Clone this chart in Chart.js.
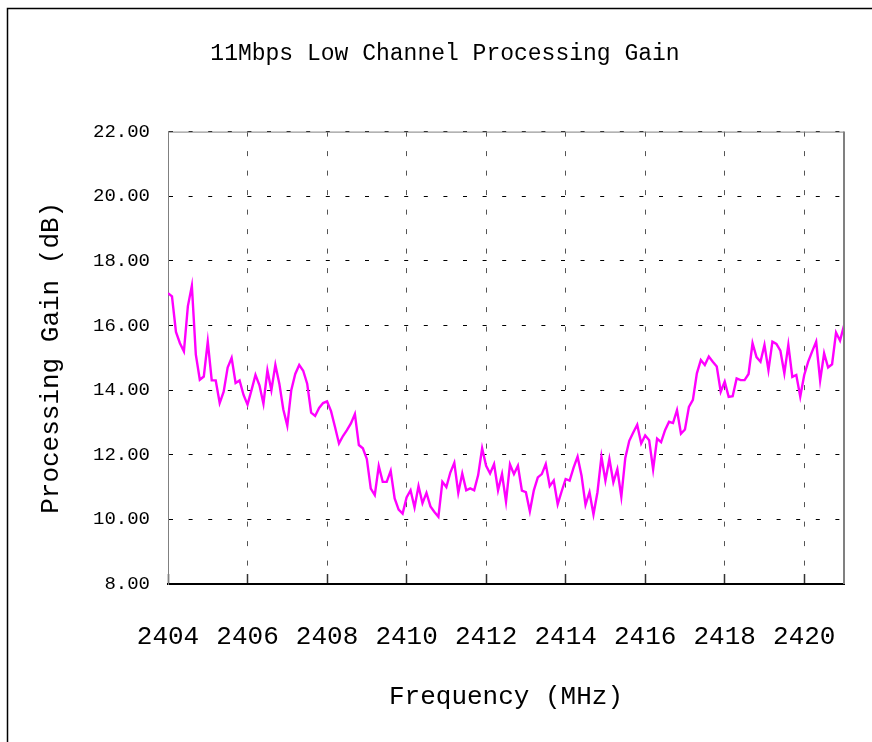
<!DOCTYPE html>
<html>
<head>
<meta charset="utf-8">
<script src="https://cdn.jsdelivr.net/npm/chart.js@4/dist/chart.umd.min.js"></script>
<style>
  html, body { margin: 0; padding: 0; background: #fff; }
  canvas { display: block; }
</style>
</head>
<body>
<canvas id="c" width="872" height="742"></canvas>
<script>
// ---- data ----
const TITLE = '11Mbps Low Channel Processing Gain';
const X_TITLE = 'Frequency (MHz)';
const Y_TITLE = 'Processing Gain (dB)';
const FREQ_START = 2404;   // MHz, first sample
const FREQ_STEP = 0.1;     // MHz between samples
const X_MIN = 2404, X_MAX = 2421, X_STEP = 2;
const Y_MIN = 8, Y_MAX = 22, Y_STEP = 2;
const gain = [
  17.0, 16.9, 15.8, 15.45, 15.2, 16.6, 17.23, 15.1, 14.32, 14.42,
  15.5, 14.3, 14.3, 13.6, 13.95, 14.7, 15.0, 14.22, 14.3, 13.85,
  13.55, 14.0, 14.47, 14.15, 13.58, 14.61, 14.0, 14.78, 14.2, 13.4,
  12.9, 14.0, 14.5, 14.78, 14.6, 14.2, 13.3, 13.2, 13.45, 13.6,
  13.65, 13.35, 12.86, 12.35, 12.58, 12.76, 12.97, 13.26, 12.3, 12.2,
  11.87, 10.95, 10.75, 11.65, 11.16, 11.16, 11.5, 10.65, 10.3, 10.18,
  10.68, 10.9, 10.37, 11.03, 10.5, 10.82, 10.4, 10.23, 10.08, 11.16,
  11.0, 11.45, 11.75, 10.82, 11.42, 10.9, 10.96, 10.9, 11.37, 12.2,
  11.66, 11.42, 11.71, 10.9, 11.4, 10.55, 11.7, 11.4, 11.66, 10.89,
  10.84, 10.25, 10.9, 11.3, 11.4, 11.71, 11.03, 11.2, 10.47, 10.87,
  11.25, 11.2, 11.6, 11.94, 11.35, 10.45, 10.84, 10.15, 10.84, 11.94,
  11.2, 11.87, 11.15, 11.55, 10.7, 11.9, 12.43, 12.69, 12.93, 12.35,
  12.6, 12.45, 11.55, 12.5, 12.39, 12.76, 13.02, 12.98, 13.38, 12.65,
  12.78, 13.48, 13.7, 14.52, 14.93, 14.78, 15.04, 14.88, 14.73, 13.95,
  14.26, 13.79, 13.81, 14.36, 14.31, 14.31, 14.5, 15.45, 15.02, 14.88,
  15.4, 14.62, 15.5, 15.43, 15.22, 14.52, 15.4, 14.41, 14.47, 13.8,
  14.47, 14.88, 15.2, 15.5, 14.3, 15.14, 14.7, 14.8, 15.78, 15.53,
  16.0
];
const freq = gain.map((_, i) => +(FREQ_START + i * FREQ_STEP).toFixed(2));

// ---- chart ----
const FONT = "'Liberation Mono', 'DejaVu Sans Mono', monospace";

const framePlugin = {
  id: 'frame',
  beforeDraw(chart) {
    const ctx = chart.ctx;
    ctx.save();
    ctx.fillStyle = '#ffffff';
    ctx.fillRect(0, 0, chart.width, chart.height);
    ctx.strokeStyle = '#000000';
    ctx.lineWidth = 1.5;
    ctx.beginPath();
    ctx.moveTo(7.5, chart.height);
    ctx.lineTo(7.5, 8.5);
    ctx.lineTo(chart.width, 8.5);
    ctx.stroke();
    ctx.restore();
  },
  afterDraw(chart) {
    const {ctx, chartArea: a} = chart;
    ctx.save();
    ctx.strokeStyle = '#808080';
    ctx.lineWidth = 1;
    ctx.beginPath();
    ctx.moveTo(a.left, a.top + 0.5);
    ctx.lineTo(a.right, a.top + 0.5);
    ctx.stroke();
    ctx.lineWidth = 2;
    ctx.beginPath();
    ctx.moveTo(a.right, a.top);
    ctx.lineTo(a.right, a.bottom);
    ctx.stroke();
    ctx.restore();
  }
};

new Chart(document.getElementById('c'), {
  type: 'line',
  data: {
    datasets: [{
      data: freq.map((f, i) => ({x: f, y: gain[i]})),
      borderColor: '#ff00ff',
      borderWidth: 2.4,
      pointRadius: 0,
      tension: 0,
      fill: false
    }]
  },
  options: {
    responsive: false,
    devicePixelRatio: 1,
    animation: false,
    layout: { padding: { left: 18, right: 0, top: 0, bottom: 0 } },
    plugins: {
      legend: { display: false },
      tooltip: { enabled: false },
      title: {
        display: true,
        text: TITLE,
        color: '#000',
        font: { family: FONT, size: 23, weight: 'normal' },
        padding: { top: 40, bottom: 64 }
      }
    },
    scales: {
      x: {
        type: 'linear',
        min: X_MIN, max: X_MAX,
        afterFit(scale) { scale.height = 158; scale.paddingRight = 28; },
        ticks: {
          stepSize: X_STEP,
          includeBounds: false,
          autoSkip: false,
          maxRotation: 0,
          padding: 48,
          color: '#000',
          font: { family: FONT, size: 26 },
          callback: v => String(v)
        },
        grid: {
          color: '#555',
          lineWidth: 1,
          drawTicks: true,
          tickLength: -10,
          tickColor: '#333',
          tickWidth: 1.5
        },
        border: { color: '#000', width: 2, dash: [5, 14.5] },
        title: {
          display: true,
          text: X_TITLE,
          color: '#000',
          font: { family: FONT, size: 26 },
          padding: { top: 0, bottom: 29 }
        }
      },
      y: {
        type: 'linear',
        min: Y_MIN, max: Y_MAX,
        afterFit(scale) { scale.width = 150; },
        ticks: {
          stepSize: Y_STEP,
          padding: 18,
          color: '#000',
          font: { family: FONT, size: 19 },
          callback: v => v.toFixed(2)
        },
        grid: {
          color: '#000',
          lineWidth: 1,
          drawTicks: false
        },
        border: { color: '#808080', width: 1, dash: [4, 15.6] },
        title: {
          display: true,
          text: Y_TITLE,
          color: '#000',
          font: { family: FONT, size: 26 },
          padding: { top: 18, bottom: 0 }
        }
      }
    }
  },
  plugins: [framePlugin]
});
</script>
</body>
</html>
